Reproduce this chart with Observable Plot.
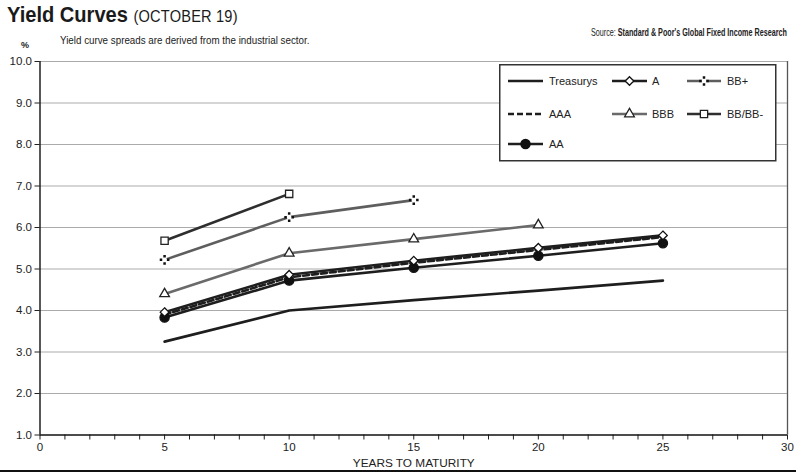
<!DOCTYPE html>
<html>
<head>
<meta charset="utf-8">
<script src="https://cdn.jsdelivr.net/npm/d3@7"></script>
<script src="https://cdn.jsdelivr.net/npm/@observablehq/plot@0.6"></script>
<style>
  html, body { margin: 0; padding: 0; background: #fff; }
  #wrap { position: relative; width: 800px; height: 473px; overflow: hidden; font-family: "Liberation Sans", Arial, sans-serif; color: #222; }
  #chart { position: absolute; left: 0; top: 0; }
  .abs { position: absolute; white-space: nowrap; transform-origin: 0 0; }
  #title { left: 7px; top: 4px; font-weight: bold; font-size: 22px; color: #1a1a1a; line-height: 1; transform: scaleX(0.913); }
  #title span { font-weight: normal; font-size: 16px; letter-spacing: 0.2px; }
  #subtitle { left: 60px; top: 34px; font-size: 11px; transform: scaleX(0.89); }
  #source { left: 591px; top: 26px; font-size: 11.5px; transform: scaleX(0.625); }
  #source b { font-weight: bold; }
  #pct { left: 21px; top: 40px; font-size: 9px; font-weight: bold; }
  #rule { left: 0; top: 470px; width: 796px; height: 2px; background: #111; }
  #legend { position: absolute; left: 499px; top: 64px; }
</style>
</head>
<body>
<div id="wrap">
  <div id="chart"></div>
  <div class="abs" id="title">Yield Curves <span>(OCTOBER 19)</span></div>
  <div class="abs" id="subtitle">Yield curve spreads are derived from the industrial sector.</div>
  <div class="abs" id="source">Source: <b>Standard &amp; Poor's Global Fixed Income Research</b></div>
  <div class="abs" id="pct">%</div>
  <div class="abs" id="rule"></div>
  <svg id="legend" width="280" height="100"></svg>
</div>
<script>
// ---- data ----
const maturities = [5, 10, 15, 20, 25];
const yTicks = [1, 2, 3, 4, 5, 6, 7, 8, 9, 10];
const xTicks = [0, 5, 10, 15, 20, 25, 30];
const treasurys = [3.25, 4.00, 4.25, 4.48, 4.72];
const aaa = [3.90, 4.80, 5.15, 5.46, 5.77];
const aa = [3.83, 4.72, 5.03, 5.32, 5.62];
const ratingA = [3.96, 4.86, 5.20, 5.51, 5.81];
const bbb = [4.40, 5.38, 5.72, 6.06];
const bbPlus = [5.22, 6.25, 6.66];
const bbMinus = [5.68, 6.81];

// custom four-dot symbol for BB+
const fourDots = {
  draw(ctx, size) {
    const s = Math.sqrt(size / Math.PI);
    const h = 1.25;
    for (const [dx, dy] of [[0, -s], [s, 0], [0, s], [-s, 0]]) {
      ctx.moveTo(dx - h, dy - h);
      ctx.lineTo(dx + h, dy - h);
      ctx.lineTo(dx + h, dy + h);
      ctx.lineTo(dx - h, dy + h);
      ctx.closePath();
    }
  }
};

const series = [
  {name: "Treasurys", values: treasurys, stroke: "#1e1e1e", dash: null, symbol: null},
  {name: "AAA", values: aaa, stroke: "#1e1e1e", dash: "6,3", symbol: null},
  {name: "AA", values: aa, stroke: "#1e1e1e", dash: null, symbol: d3.symbolCircle, fill: "#111", mstroke: "#111", r: 4.6},
  {name: "A", values: ratingA, stroke: "#1e1e1e", dash: null, symbol: d3.symbolDiamond2, fill: "#fff", mstroke: "#111", r: 3.9},
  {name: "BBB", values: bbb, stroke: "#6a6a6a", dash: null, symbol: d3.symbolTriangle, fill: "#fff", mstroke: "#222", r: 3.6},
  {name: "BB+", values: bbPlus, stroke: "#5e5e5e", dash: null, symbol: fourDots, fill: "#111", mstroke: "none", r: 3.6, halo: true},
  {name: "BB/BB-", values: bbMinus, stroke: "#2e2e2e", dash: null, symbol: d3.symbolSquare, fill: "#fff", mstroke: "#222", r: 4.1}
];

const rows = series.flatMap(s => s.values.map((v, i) => ({series: s.name, x: maturities[i], y: v})));
const drawOrder = ["Treasurys", "BB/BB-", "BB+", "BBB", "AA", "AAA", "A"];

const lineMarks = drawOrder.map(n => {
  const s = series.find(d => d.name === n);
  return Plot.line(rows.filter(d => d.series === n), {
    x: "x", y: "y", stroke: s.stroke, strokeWidth: 2.6,
    strokeDasharray: s.dash || undefined
  });
});
const dotMarks = ["BB/BB-", "BB+", "BBB", "AA", "A"].flatMap(n => {
  const s = series.find(d => d.name === n);
  const data = rows.filter(d => d.series === n);
  const marks = [];
  if (s.halo) marks.push(Plot.dot(data, {x: "x", y: "y", r: 2.4, fill: "#fff", stroke: "none"}));
  marks.push(Plot.dot(data, {
    x: "x", y: "y", symbol: s.symbol, r: s.r, fill: s.fill, stroke: s.mstroke, strokeWidth: 1.3
  }));
  return marks;
});

const chart = Plot.plot({
  width: 800,
  height: 473,
  marginLeft: 39.5,
  marginRight: 13,
  marginTop: 61,
  marginBottom: 38.5,
  style: {fontFamily: "Liberation Sans, Arial, sans-serif", fontSize: "11px", color: "#222", background: "transparent"},
  x: {domain: [0, 30]},
  y: {domain: [1, 10]},
  marks: [
    Plot.ruleY(yTicks.slice(1), {stroke: "#ababab", strokeWidth: 1.2}),
    Plot.ruleX([30], {stroke: "#555", strokeWidth: 1.3}),
    Plot.axisY({ticks: yTicks, tickFormat: d3.format(".1f"), tickSize: 5, tickPadding: 3, label: null, fontSize: 11.5}),
    Plot.axisX({ticks: d3.range(0, 31), tickFormat: d => (xTicks.includes(d) ? String(d) : ""), tickSize: 5, tickPadding: 3, label: null, fontSize: 11.5}),
    Plot.axisX({ticks: [], tickSize: 0, label: "YEARS TO MATURITY", labelAnchor: "center", labelArrow: "none", labelOffset: 32, fontSize: 11.8}),
    Plot.ruleX([0], {stroke: "#111", strokeWidth: 1.4}),
    Plot.ruleY([1], {stroke: "#111", strokeWidth: 1.4}),
    ...lineMarks,
    ...dotMarks
  ]
});
document.getElementById("chart").appendChild(chart);

// ---- legend ----
const lg = d3.select("#legend");
lg.append("rect").attr("x", 0.75).attr("y", 0.75).attr("width", 276).attr("height", 96)
  .attr("fill", "#fff").attr("stroke", "#333").attr("stroke-width", 1.5);
const legendLayout = [
  {name: "Treasurys", col: 0, row: 0}, {name: "A", col: 1, row: 0}, {name: "BB+", col: 2, row: 0},
  {name: "AAA", col: 0, row: 1}, {name: "BBB", col: 1, row: 1}, {name: "BB/BB-", col: 2, row: 1},
  {name: "AA", col: 0, row: 2}
];
const colX = [[9, 44, 50], [113, 148, 153], [188, 222, 228]];
const rowY = [17, 50, 80];
for (const item of legendLayout) {
  const s = series.find(d => d.name === item.name);
  const [x1, x2, tx] = colX[item.col];
  const y = rowY[item.row];
  const cx = (x1 + x2) / 2;
  lg.append("line").attr("x1", x1).attr("x2", x2).attr("y1", y).attr("y2", y)
    .attr("stroke", s.stroke).attr("stroke-width", 2.6).attr("stroke-dasharray", s.dash);
  if (s.halo) {
    lg.append("circle").attr("cx", cx).attr("cy", y).attr("r", 2.4).attr("fill", "#fff");
  }
  if (s.symbol) {
    lg.append("path").attr("transform", `translate(${cx},${y})`)
      .attr("d", d3.symbol(s.symbol, s.r * s.r * Math.PI)())
      .attr("fill", s.fill).attr("stroke", s.mstroke).attr("stroke-width", 1.3);
  }
  lg.append("text").attr("x", tx).attr("y", y + 4).text(s.name)
    .attr("font-family", "Liberation Sans, Arial, sans-serif").attr("font-size", 11).attr("fill", "#222");
}
</script>
</body>
</html>
